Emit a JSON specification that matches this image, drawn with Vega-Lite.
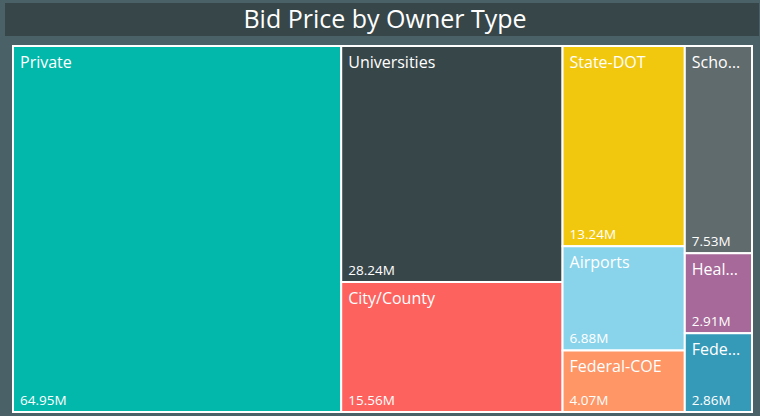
{
  "$schema": "https://vega.github.io/schema/vega-lite/v6.json",
  "description": "Bid price treemap by owner type",
  "background": "#4a6168",
  "padding": {"left": 5, "right": 1, "top": 3, "bottom": 5},
  "config": {"view": {"stroke": null}},
  "spacing": 9,
  "vconcat": [
    {
      "width": 754,
      "height": 33,
      "view": {"fill": "#374649", "stroke": null},
      "data": {"values": [{"t": "Bid Price by Owner Type"}]},
      "mark": {"type": "text", "color": "white", "font": "Open Sans", "fontSize": 25, "align": "center", "baseline": "middle", "dx": 3},
      "encoding": {"text": {"field": "t"}}
    },
    {
      "width": 754,
      "height": 366,
      "data": {
        "values": [
          {"owner": "Private", "value": 64.95, "col": 1},
          {"owner": "Universities", "value": 28.24, "col": 2},
          {"owner": "City/County", "value": 15.56, "col": 2},
          {"owner": "State-DOT", "value": 13.24, "col": 3},
          {"owner": "Airports", "value": 6.88, "col": 3},
          {"owner": "Federal-COE", "value": 4.07, "col": 3},
          {"owner": "Scho…", "value": 7.53, "col": 4},
          {"owner": "Heal…", "value": 2.91, "col": 4},
          {"owner": "Fede…", "value": 2.86, "col": 4}
        ]
      },
      "transform": [
        {"joinaggregate": [{"op": "sum", "field": "value", "as": "colTotal"}], "groupby": ["col"]},
        {"window": [{"op": "sum", "field": "value", "as": "xEnd"}], "sort": [{"field": "col", "order": "ascending"}], "frame": [null, 0]},
        {"calculate": "datum.xEnd - datum.colTotal", "as": "xStart"},
        {"stack": "value", "groupby": ["col"], "sort": [{"field": "value", "order": "descending"}], "offset": "normalize", "as": ["y0", "y1"]},
        {"calculate": "format(datum.value, '.2f') + 'M'", "as": "label"}
      ],
      "encoding": {
        "x": {"field": "xStart", "type": "quantitative", "axis": null, "scale": {"nice": false, "zero": true, "range": [8, 747]}},
        "x2": {"field": "xEnd"}
      },
      "layer": [
        {
          "mark": {"type": "rect", "stroke": "white", "strokeWidth": 2},
          "encoding": {
            "y": {"field": "y0", "type": "quantitative", "axis": null, "scale": {"domain": [0, 1], "reverse": true, "nice": false}},
            "y2": {"field": "y1"},
            "color": {
              "field": "owner",
              "type": "nominal",
              "legend": null,
              "scale": {
                "domain": ["Private", "Universities", "City/County", "State-DOT", "Scho…", "Airports", "Federal-COE", "Heal…", "Fede…"],
                "range": ["#01B8AA", "#374649", "#FD625E", "#F2C80F", "#5F6B6D", "#8AD4EB", "#FE9666", "#A66999", "#3599B8"]
              }
            }
          }
        },
        {
          "mark": {"type": "text", "color": "white", "font": "Open Sans", "fontSize": 16, "align": "left", "baseline": "top", "dx": 7, "dy": 9},
          "encoding": {
            "x": {"field": "xStart", "type": "quantitative"},
            "x2": null,
            "y": {"field": "y0", "type": "quantitative"},
            "text": {"field": "owner"}
          }
        },
        {
          "mark": {"type": "text", "color": "white", "font": "Open Sans", "fontSize": 13.5, "align": "left", "baseline": "alphabetic", "dx": 7, "dy": -7},
          "encoding": {
            "x": {"field": "xStart", "type": "quantitative"},
            "x2": null,
            "y": {"field": "y1", "type": "quantitative"},
            "text": {"field": "label"}
          }
        }
      ]
    }
  ]
}
